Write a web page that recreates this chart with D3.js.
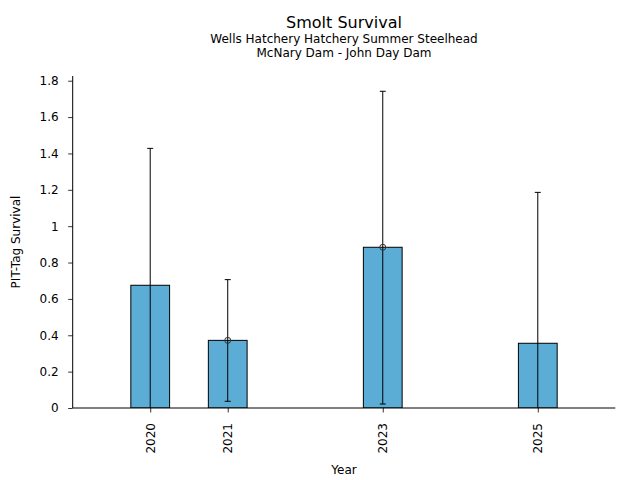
<!DOCTYPE html>
<html>
<head>
<meta charset="utf-8">
<script src="https://cdn.jsdelivr.net/npm/d3@7"></script>
<style>
  body { margin: 0; background: #fff; }
  svg { font-family: "DejaVu Sans", sans-serif; }
</style>
</head>
<body>
<svg id="chart" width="640" height="480"></svg>
<script>
// Smolt survival by year, with 95% interval
const years = [2020, 2021, 2023, 2025];
const survival = [0.675, 0.372, 0.884, 0.356];
const lower = [-0.078, 0.037, 0.022, -0.474];
const upper = [1.428, 0.706, 1.742, 1.186];
// years where the point estimate is marked with a circle
const markedYears = [2021, 2023];
const yTicks = [0, 0.2, 0.4, 0.6, 0.8, 1, 1.2, 1.4, 1.6, 1.8];

const svg = d3.select('#chart');

const plotLeft = 72.7, plotRight = 615.3, plotTop = 76, plotBottom = 408;

const x = d3.scaleLinear().domain([2019, 2026]).range([plotLeft, plotRight]);
const y = d3.scaleLinear().domain([0, 1.826]).range([plotBottom, plotTop]);

const rows = years.map((yr, i) => ({
  year: yr, value: survival[i], lo: lower[i], hi: upper[i],
  marked: markedYears.includes(yr)
}));

svg.append('defs').append('clipPath').attr('id', 'plot')
  .append('rect')
  .attr('x', plotLeft).attr('y', plotTop)
  .attr('width', plotRight - plotLeft).attr('height', plotBottom - plotTop);

const plot = svg.append('g').attr('clip-path', 'url(#plot)');

// bars (half a year wide)
const barW = x(2020.5) - x(2020);
plot.selectAll('rect.bar')
  .data(rows)
  .join('rect')
  .attr('class', 'bar')
  .attr('x', d => x(d.year) - barW / 2)
  .attr('y', d => y(d.value))
  .attr('width', barW)
  .attr('height', d => y(0) - y(d.value))
  .attr('fill', '#5badd6')
  .attr('stroke', '#000')
  .attr('stroke-width', 1);

// error bars
const err = plot.selectAll('g.err')
  .data(rows)
  .join('g')
  .attr('class', 'err')
  .attr('stroke', '#000')
  .attr('stroke-width', 1);

err.append('line')
  .attr('x1', d => x(d.year)).attr('x2', d => x(d.year))
  .attr('y1', d => y(d.lo)).attr('y2', d => y(d.hi));

err.append('line')
  .attr('x1', d => x(d.year) - 3).attr('x2', d => x(d.year) + 3)
  .attr('y1', d => y(d.hi)).attr('y2', d => y(d.hi));

err.append('line')
  .attr('x1', d => x(d.year) - 3).attr('x2', d => x(d.year) + 3)
  .attr('y1', d => y(d.lo)).attr('y2', d => y(d.lo));

// open circle on marked estimates
svg.selectAll('circle.est')
  .data(rows.filter(d => d.marked))
  .join('circle')
  .attr('class', 'est')
  .attr('cx', d => x(d.year))
  .attr('cy', d => y(d.value))
  .attr('r', 3)
  .attr('fill', 'none')
  .attr('stroke', '#333')
  .attr('stroke-width', 1);

// axes
const yAxis = svg.append('g')
  .attr('transform', `translate(${plotLeft},0)`)
  .call(d3.axisLeft(y).tickValues(yTicks).tickSize(4.5).tickPadding(9.5)
    .tickFormat(d => String(+d.toFixed(1))));

const xAxis = svg.append('g')
  .attr('transform', `translate(0,${plotBottom})`)
  .call(d3.axisBottom(x).tickValues(years).tickSize(4.5).tickFormat(d3.format('d')));

yAxis.select('.domain').attr('d', `M0,${plotBottom}V${plotTop}`);
xAxis.select('.domain').attr('d', `M${plotLeft},0H${plotRight}`);

[xAxis, yAxis].forEach(a => {
  a.selectAll('.domain').attr('stroke', '#000').attr('stroke-width', 1);
  a.selectAll('.tick line').attr('stroke', '#000').attr('stroke-width', 0.8);
  a.selectAll('.tick text').attr('fill', '#000')
    .style('font-family', '"DejaVu Sans", sans-serif').style('font-size', '12px');
});

xAxis.selectAll('.tick text')
  .attr('transform', 'rotate(-90)')
  .attr('x', -15).attr('y', 0).attr('dy', '0.35em')
  .attr('text-anchor', 'end');

// titles
const cx = (plotLeft + plotRight) / 2;
svg.append('text').attr('x', cx).attr('y', 28).attr('text-anchor', 'middle')
  .style('font-size', '16px').text('Smolt Survival');
svg.append('text').attr('x', cx).attr('y', 42.5).attr('text-anchor', 'middle')
  .style('font-size', '12px').text('Wells Hatchery Hatchery Summer Steelhead');
svg.append('text').attr('x', cx).attr('y', 57).attr('text-anchor', 'middle')
  .style('font-size', '12px').text('McNary Dam - John Day Dam');

svg.append('text').attr('x', cx).attr('y', 474).attr('text-anchor', 'middle')
  .style('font-size', '12px').text('Year');
svg.append('text')
  .attr('transform', `translate(20,${(plotTop + plotBottom) / 2}) rotate(-90)`)
  .attr('text-anchor', 'middle')
  .style('font-size', '12px').text('PIT-Tag Survival');
</script>
</body>
</html>
